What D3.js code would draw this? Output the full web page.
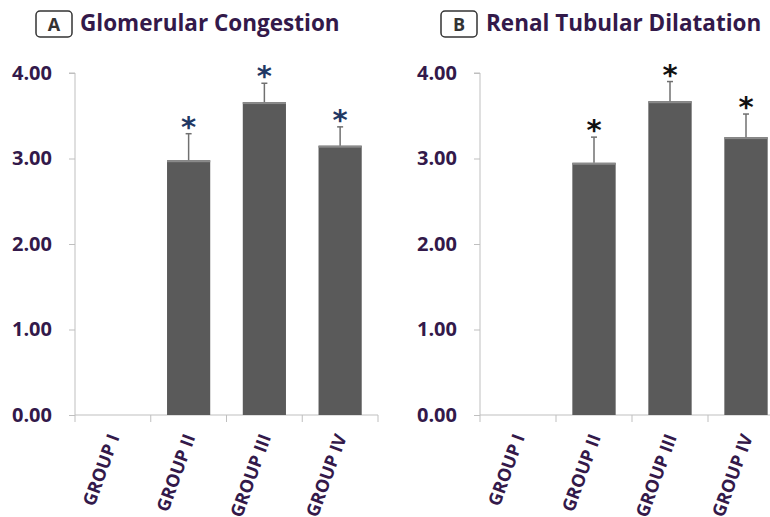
<!DOCTYPE html>
<html>
<head>
<meta charset="utf-8">
<script src="https://cdn.jsdelivr.net/npm/d3@7"></script>
<style>
  body { margin: 0; background: white; }
  svg { display: block; font-family: "Open Sans", "DejaVu Sans", sans-serif; }
</style>
</head>
<body>
<svg width="770" height="517"></svg>
<script>
// data
const groups = ["GROUP I", "GROUP II", "GROUP III", "GROUP IV"];
const yTicks = [0, 1, 2, 3, 4];

const congestionMeans = [0, 2.98, 3.66, 3.15];
const congestionErr   = [0, 0.31, 0.22, 0.22];

const dilatationMeans = [0, 2.95, 3.67, 3.25];
const dilatationErr   = [0, 0.30, 0.23, 0.27];

const signif = [false, true, true, true];

const svg = d3.select("svg");
const purple = "#33194a";

const panels = [
  { letter: "A", title: "Glomerular Congestion", means: congestionMeans, errs: congestionErr,
    left: 75, right: 378, boxX: 36, titleX: 80, starColor: "#1f3864" },
  { letter: "B", title: "Renal Tubular Dilatation", means: dilatationMeans, errs: dilatationErr,
    left: 480, right: 784, boxX: 441, titleX: 486, starColor: "#111" }
];

const plotTop = 73, plotBottom = 415;

panels.forEach(p => {
  const g = svg.append("g");

  const x = d3.scaleBand().domain(groups).range([p.left, p.right]).paddingInner(0.43).paddingOuter(0.215);
  const xTicks = d3.scaleBand().domain(groups).range([p.left, p.right]);
  const y = d3.scaleLinear().domain([0, 4]).range([plotBottom, plotTop]);

  // title with boxed letter
  g.append("rect")
    .attr("x", p.boxX).attr("y", 11).attr("width", 36).attr("height", 26)
    .attr("rx", 4).attr("fill", "white").attr("stroke", "#333").attr("stroke-width", 1.5);
  g.append("text")
    .attr("x", p.boxX + 18).attr("y", 31).attr("text-anchor", "middle")
    .attr("font-size", 18).attr("font-weight", 700).attr("fill", "#333")
    .text(p.letter);
  g.append("text")
    .attr("x", p.titleX).attr("y", 31)
    .attr("font-size", 22.5).attr("font-weight", 700).attr("fill", purple)
    .text(p.title);

  // y axis
  const yAxis = d3.axisLeft(y).tickValues(yTicks).tickFormat(d3.format(".2f")).tickSize(6).tickPadding(17);
  const yG = g.append("g").attr("transform", `translate(${p.left},0)`).call(yAxis);
  yG.select(".domain").attr("stroke", "#bfbfbf").attr("d", `M-6,${plotTop}H0V${plotBottom}`);
  yG.selectAll(".tick line").attr("stroke", "#bfbfbf");
  yG.selectAll(".tick text").attr("font-size", 20).attr("font-weight", 700).attr("fill", purple)
    .attr("font-family", "'Open Sans', sans-serif");

  // x axis baseline + category ticks
  g.append("line")
    .attr("x1", p.left).attr("x2", p.right).attr("y1", plotBottom).attr("y2", plotBottom)
    .attr("stroke", "#bfbfbf");
  g.selectAll(".xtick").data(groups.concat(["end"])).enter().append("line")
    .attr("x1", (d, i) => p.left + i * xTicks.bandwidth())
    .attr("x2", (d, i) => p.left + i * xTicks.bandwidth())
    .attr("y1", plotBottom).attr("y2", plotBottom + 7)
    .attr("stroke", "#bfbfbf");

  // rotated labels
  g.selectAll(".xlab").data(groups).enter().append("text")
    .attr("transform", d => `translate(${xTicks(d) + xTicks.bandwidth() / 2 + 7},${plotBottom + 22}) rotate(-70)`)
    .attr("text-anchor", "end")
    .attr("font-size", 18).attr("font-weight", 700).attr("fill", purple)
    .text(d => d);

  // bars
  const data = groups.map((d, i) => ({ group: d, mean: p.means[i], err: p.errs[i], sig: signif[i] }));
  const shown = data.filter(d => d.mean > 0);

  g.selectAll(".bar").data(shown).enter().append("rect")
    .attr("x", d => x(d.group)).attr("width", x.bandwidth())
    .attr("y", d => y(d.mean)).attr("height", d => y(0) - y(d.mean))
    .attr("fill", "#5a5a5a");
  g.selectAll(".bartop").data(shown).enter().append("rect")
    .attr("x", d => x(d.group)).attr("width", x.bandwidth())
    .attr("y", d => y(d.mean)).attr("height", 2)
    .attr("fill", "#8a8a8a");

  // error bars (upper only)
  const cx = d => x(d.group) + x.bandwidth() / 2;
  g.selectAll(".err").data(shown).enter().append("line")
    .attr("x1", cx).attr("x2", cx)
    .attr("y1", d => y(d.mean)).attr("y2", d => y(d.mean + d.err))
    .attr("stroke", "#707070").attr("stroke-width", 1.5);
  g.selectAll(".cap").data(shown).enter().append("line")
    .attr("x1", d => cx(d) - 3).attr("x2", d => cx(d) + 3)
    .attr("y1", d => y(d.mean + d.err)).attr("y2", d => y(d.mean + d.err))
    .attr("stroke", "#707070").attr("stroke-width", 1.5);

  // significance stars
  g.selectAll(".star").data(shown.filter(d => d.sig)).enter().append("text")
    .attr("x", cx).attr("y", d => y(d.mean + d.err) + 3)
    .attr("text-anchor", "middle")
    .attr("font-size", 29).attr("font-weight", 700)
    .attr("font-family", "'DejaVu Sans', sans-serif")
    .attr("fill", p.starColor)
    .text("*");
});
</script>
</body>
</html>
